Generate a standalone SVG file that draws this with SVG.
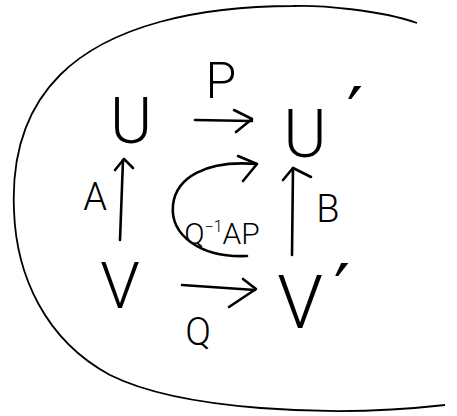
<svg xmlns="http://www.w3.org/2000/svg" width="457" height="416" viewBox="0 0 457 416">
<style>
.t{font-family:Roboto,"Liberation Sans","DejaVu Sans",sans-serif;font-weight:300;fill:#000;text-anchor:middle}
.pr{font-family:"DejaVu Sans",sans-serif;fill:#000;text-anchor:middle}
.ln{fill:none;stroke:#000;stroke-width:2.6;stroke-linecap:round;stroke-linejoin:round}
</style>
<rect width="457" height="416" fill="#fff"/>
<g id="boundary">
<path d="M417,23 C380,10 320,5 293,6 C200,6 110,25 60,75 C20,115 12,165 14,210 C16,275 45,340 110,375 C180,410 330,418 445,405" fill="none" stroke="#000" stroke-width="1.8"/>
</g>
<g id="connectors">
<g id="arrow-P"><path class="ln" d="M195,120 L252,121"/><path class="ln" d="M234,110 L252,119 L236,132"/></g>
<g id="arrow-A"><path class="ln" d="M120,240 L123,160"/><path class="ln" d="M115,170 L124,159 L133,168"/></g>
<g id="arrow-B"><path class="ln" d="M292,255 L293,168"/><path class="ln" d="M283,180 L293,168 L311,177"/></g>
<g id="arrow-Q"><path class="ln" d="M182,285 L255,290"/><path class="ln" d="M243,279 L256,289 L229,307"/></g>
<g id="arrow-Q-1AP"><path class="ln" d="M247,256 C200,258 170,235 173,205 C176,178 205,160 256,164"/><path class="ln" d="M238,156 L257,164 L243,181"/></g>
</g>
<g id="node-U"><text class="t" x="131" y="143" font-size="64">U</text></g>
<g id="node-U2"><text class="t" x="305" y="157" font-size="66">U</text><text class="pr" x="355" y="138" font-size="72">′</text></g>
<g id="node-V"><text class="t" x="120" y="308" font-size="64">V</text></g>
<g id="node-V2"><text class="t" x="300" y="328" font-size="74">V</text><text class="pr" x="342" y="315" font-size="72">′</text></g>
<g id="label-P"><text class="t" x="221" y="98" font-size="50">P</text></g>
<g id="label-A"><text class="t" x="95" y="210" font-size="38">A</text></g>
<g id="label-B"><text class="t" x="328" y="222" font-size="38">B</text></g>
<g id="label-Q"><text class="t" x="198" y="345" font-size="38">Q</text></g>
<g id="label-Q-1AP"><text class="t" x="222" y="244" font-size="30">Q<tspan font-size="16" dy="-12">−1</tspan><tspan dy="12">AP</tspan></text></g>
</svg>
